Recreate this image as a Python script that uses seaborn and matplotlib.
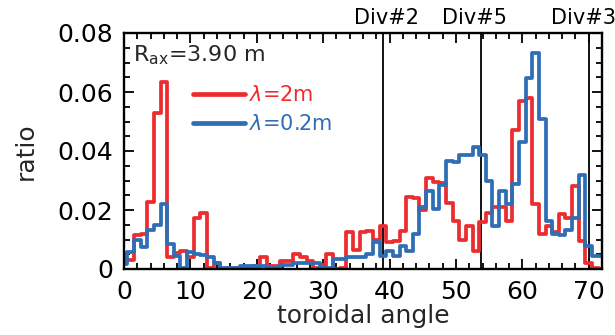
import numpy as np
import pandas as pd
import matplotlib
matplotlib.use("Agg")
import matplotlib.pyplot as plt
import matplotlib.ticker as mticker
import seaborn as sns

# ---------------- data ----------------
angles = list(range(73))
ratio_lambda_2m = [
    0.0035, 0.0030, 0.0115, 0.0118, 0.0227, 0.0530, 0.0633, 0.0040, 0.0055, 0.0060,
    0.0042, 0.0174, 0.0190, 0.0003, 0.0020, 0.0000, 0.0005, 0.0005, 0.0003, 0.0000,
    0.0010, 0.0040, 0.0010, 0.0010, 0.0027, 0.0027, 0.0050, 0.0040, 0.0027, 0.0005,
    0.0015, 0.0050, 0.0000, 0.0005, 0.0124, 0.0065, 0.0125, 0.0130, 0.0098, 0.0145,
    0.0090, 0.0095, 0.0130, 0.0243, 0.0240, 0.0200, 0.0310, 0.0294, 0.0290, 0.0224,
    0.0163, 0.0098, 0.0146, 0.0061, 0.0158, 0.0190, 0.0210, 0.0210, 0.0163, 0.0470,
    0.0570, 0.0580, 0.0220, 0.0118, 0.0146, 0.0125, 0.0185, 0.0174, 0.0283, 0.0096,
    0.0020, 0.0003, 0.0000,
]
ratio_lambda_02m = [
    0.0016, 0.0059, 0.0098, 0.0073, 0.0133, 0.0149, 0.0222, 0.0084, 0.0044, 0.0005,
    0.0059, 0.0052, 0.0046, 0.0040, 0.0019, 0.0004, 0.0004, 0.0002, 0.0009, 0.0009,
    0.0009, 0.0009, 0.0004, 0.0004, 0.0015, 0.0015, 0.0020, 0.0022, 0.0022, 0.0020,
    0.0008, 0.0003, 0.0035, 0.0035, 0.0040, 0.0040, 0.0039, 0.0050, 0.0092, 0.0044,
    0.0060, 0.0044, 0.0078, 0.0060, 0.0118, 0.0209, 0.0266, 0.0203, 0.0286, 0.0365,
    0.0362, 0.0385, 0.0385, 0.0413, 0.0385, 0.0300, 0.0146, 0.0266, 0.0222, 0.0287,
    0.0430, 0.0646, 0.0731, 0.0510, 0.0163, 0.0118, 0.0115, 0.0133, 0.0174, 0.0317,
    0.0078, 0.0044, 0.0044,
]
series_labels = [r"$\lambda$=2m", r"$\lambda$=0.2m"]
divertor_angles = [39.0, 53.7, 70.0]
divertor_names = ["Div#2", "Div#5", "Div#3"]
x_ticks = [0, 10, 20, 30, 40, 50, 60, 70]
y_ticks = [0, 0.02, 0.04, 0.06, 0.08]
y_tick_labels = ["0", "0.02", "0.04", "0.06", "0.08"]
annotation = r"R$_{\rm ax}$=3.90 m"

# ---------------- style ----------------
sns.set_style("ticks")
plt.rcParams["font.family"] = ["DejaVu Sans"]
plt.rcParams["mathtext.fontset"] = "dejavusans"

RED = "#ec2d30"
BLUE = "#2f6db5"

df = pd.DataFrame({
    "angle": angles + angles,
    "ratio": ratio_lambda_2m + ratio_lambda_02m,
    "case": [series_labels[0]] * len(angles) + [series_labels[1]] * len(angles),
})

fig = plt.figure(figsize=(6.15, 3.35), dpi=100)
ax = fig.add_axes([124 / 615, 1 - 269 / 335, (602 - 124) / 615, (269 - 33) / 335])

sns.lineplot(data=df, x="angle", y="ratio", hue="case",
             palette=[RED, BLUE], hue_order=series_labels,
             estimator=None, drawstyle="steps-mid", linewidth=2.7,
             ax=ax, legend=True)

for a in divertor_angles:
    ax.axvline(a, color="black", lw=1.3, zorder=1)

label_x = [39.5, 52.8, 69.2]
for lx, name in zip(label_x, divertor_names):
    ax.text(lx, 1.0 + 15 / 236, name, transform=ax.get_xaxis_transform(),
            ha="center", va="center", fontsize=15, color="black", clip_on=False)

ax.text(1.3, 0.0705, annotation, fontsize=16, ha="left", va="baseline")

ax.set_xlim(0, 72)
ax.set_ylim(0, 0.08)
ax.set_xticks(x_ticks)
ax.set_yticks(y_ticks)
ax.set_yticklabels(y_tick_labels)
ax.xaxis.set_minor_locator(mticker.MultipleLocator(2))
ax.yaxis.set_minor_locator(mticker.MultipleLocator(0.005))
ax.tick_params(which="both", direction="in", top=True, right=True,
               width=1.3, colors="black", labelsize=18)
ax.tick_params(axis="x", which="major", length=7, pad=8)
ax.tick_params(axis="y", which="major", length=7, pad=8)
ax.tick_params(which="minor", length=4)
for sp in ax.spines.values():
    sp.set_linewidth(1.7)
    sp.set_color("black")

ax.set_xlabel("toroidal angle", fontsize=18, labelpad=0)
ax.set_ylabel("ratio", fontsize=18, labelpad=14)

handles, labels = ax.get_legend_handles_labels()
leg = ax.legend(handles, labels, loc="upper left", bbox_to_anchor=(0.144, 0.78),
                frameon=False, fontsize=15, handlelength=2.5, handletextpad=0.2,
                labelspacing=0.45, borderpad=0, borderaxespad=0,
                labelcolor="linecolor")
for h in leg.legend_handles:
    h.set_linewidth(3.4)

fig.savefig("out.png", dpi=100)
